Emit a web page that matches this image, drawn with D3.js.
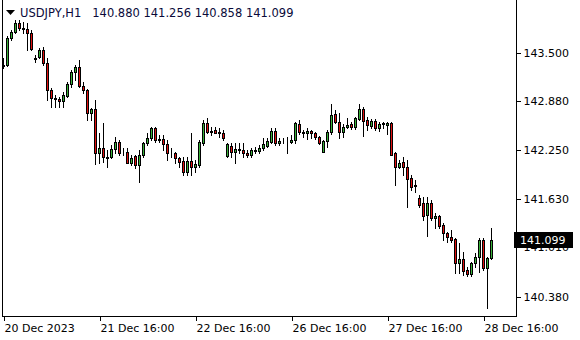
<!DOCTYPE html>
<html>
<head>
<meta charset="utf-8">
<script src="https://cdn.jsdelivr.net/npm/d3@7"></script>
<style>
  body { margin: 0; background: #fff; }
  svg { display: block; font-family: "DejaVu Sans", sans-serif; }
</style>
</head>
<body>
<script>
// Width and height
var w = 580;
var h = 340;
var plotRight = 516;
var plotBottom = 316;

// USDJPY H1 bars (open, high, low, close)
var opens = [143.330,143.343,143.688,143.765,143.880,143.816,143.803,143.752,143.432,143.445,
  143.535,143.368,143.023,142.921,142.908,142.882,142.946,143.100,143.253,143.317,
  143.074,143.023,142.729,142.780,142.217,142.281,142.166,142.166,142.269,142.358,
  142.230,142.230,142.090,142.179,142.064,142.192,142.345,142.409,142.537,142.396,
  142.396,142.333,142.230,142.217,142.153,142.115,141.974,142.115,142.038,142.064,
  142.345,142.601,142.499,142.512,142.473,142.473,142.179,142.307,142.230,142.269,
  142.256,142.217,142.192,142.256,142.243,142.281,142.307,142.358,142.499,142.345,
  142.371,142.371,142.358,142.384,142.588,142.486,142.473,142.499,142.473,142.422,
  142.230,142.371,142.486,142.716,142.614,142.486,142.550,142.588,142.550,142.652,
  142.780,142.639,142.563,142.627,142.537,142.588,142.575,142.601,142.217,142.038,
  142.102,142.038,141.898,141.808,141.642,141.578,141.425,141.578,141.386,141.412,
  141.297,141.194,141.143,141.118,140.811,140.862,140.721,140.670,140.811,140.887,
  141.105,140.747,140.880];
var highs = [143.432,143.714,143.790,143.918,143.918,143.893,143.880,143.790,143.471,143.560,
  143.573,143.432,143.049,142.959,142.934,142.997,143.125,143.279,143.343,143.407,
  143.125,143.030,142.793,142.895,142.473,142.601,142.256,142.320,142.422,142.384,
  142.281,142.281,142.192,142.192,142.256,142.358,142.473,142.550,142.550,142.448,
  142.448,142.384,142.281,142.230,142.166,142.166,142.166,142.473,142.128,142.384,
  142.639,142.665,142.550,142.550,142.537,142.512,142.345,142.345,142.345,142.345,
  142.345,142.256,142.281,142.294,142.320,142.409,142.409,142.537,142.537,142.409,
  142.409,142.422,142.448,142.614,142.639,142.512,142.537,142.512,142.486,142.435,
  142.384,142.512,142.844,142.767,142.729,142.588,142.665,142.614,142.678,142.844,
  142.806,142.678,142.652,142.652,142.614,142.614,142.614,142.614,142.230,142.128,
  142.166,142.128,141.936,141.872,141.680,141.655,141.655,141.617,141.450,141.425,
  141.322,141.207,141.233,141.130,141.067,140.952,140.760,140.824,140.939,141.130,
  141.130,140.887,141.256];
var lows = [143.304,143.330,143.662,143.752,143.790,143.752,143.535,143.535,143.381,143.432,
  143.343,142.895,142.806,142.806,142.806,142.806,142.934,143.061,143.151,143.061,
  142.985,142.639,142.639,142.077,142.090,142.102,142.038,142.153,142.217,142.192,
  142.192,142.090,142.064,142.026,141.847,142.166,142.320,142.384,142.358,142.358,
  142.256,142.128,142.166,142.090,142.038,141.936,141.936,141.936,141.974,142.038,
  142.320,142.473,142.448,142.473,142.422,142.384,142.166,142.166,142.090,142.217,
  142.166,142.166,142.166,142.217,142.217,142.256,142.294,142.345,142.320,142.320,
  142.345,142.217,142.345,142.345,142.460,142.422,142.396,142.409,142.396,142.333,
  142.230,142.294,142.460,142.601,142.409,142.422,142.537,142.524,142.524,142.639,
  142.435,142.512,142.537,142.512,142.499,142.537,142.460,142.192,141.808,142.026,
  141.936,141.527,141.744,141.719,141.527,141.361,141.156,141.361,141.258,141.258,
  141.105,141.079,141.079,140.683,140.683,140.657,140.645,140.645,140.760,140.696,
  140.721,140.235,140.858];
var closes = [143.343,143.688,143.765,143.880,143.816,143.803,143.752,143.547,143.425,143.535,
  143.368,143.023,142.921,142.908,142.882,142.959,143.100,143.253,143.317,143.074,
  143.023,142.729,142.780,142.217,142.281,142.166,142.153,142.269,142.358,142.217,
  142.224,142.090,142.153,142.064,142.192,142.345,142.409,142.537,142.384,142.390,
  142.333,142.217,142.224,142.153,142.102,141.974,142.115,142.038,142.077,142.358,
  142.601,142.486,142.486,142.473,142.486,142.409,142.333,142.230,142.269,142.256,
  142.217,142.192,142.256,142.243,142.281,142.333,142.371,142.499,142.345,142.371,
  142.365,142.377,142.384,142.601,142.486,142.473,142.499,142.473,142.422,142.345,
  142.371,142.486,142.703,142.614,142.486,142.550,142.575,142.550,142.665,142.780,
  142.627,142.575,142.627,142.537,142.588,142.601,142.601,142.192,142.038,142.090,
  142.038,141.885,141.783,141.795,141.552,141.412,141.578,141.386,141.412,141.284,
  141.194,141.143,141.105,140.811,140.862,140.708,140.670,140.811,140.887,141.105,
  140.747,140.878,141.099];

// Axis ticks
var priceTicks = [143.500, 142.880, 142.250, 141.630, 141.010, 140.380];
var timeTickBars = [0, 24, 48, 72, 96, 120];
var timeTickLabels = ["20 Dec 2023", "21 Dec 16:00", "22 Dec 16:00", "26 Dec 16:00", "27 Dec 16:00", "28 Dec 16:00"];
var symbol = "USDJPY,H1";

var bars = opens.map(function(o, i) {
  return { i: i, o: o, h: highs[i], l: lows[i], c: closes[i] };
});
var last = bars[bars.length - 1];

// Scales
var xScale = d3.scaleLinear()
  .domain([0, bars.length - 1])
  .range([3, 3 + 4 * (bars.length - 1)]);

var yScale = d3.scaleLinear()
  .domain([140.133, 144.174])
  .range([plotBottom, 0]);

var fmt = d3.format(".3f");

// SVG
var svg = d3.select("body")
  .append("svg")
  .attr("width", w)
  .attr("height", h);

// Frame lines
svg.append("line")
  .attr("x1", 2.5).attr("x2", 2.5)
  .attr("y1", 0).attr("y2", plotBottom + 1)
  .attr("stroke", "#000");
svg.append("line")
  .attr("x1", 2).attr("x2", plotRight + 1)
  .attr("y1", plotBottom + 0.5).attr("y2", plotBottom + 0.5)
  .attr("stroke", "#000");

// Candles
var candle = svg.append("g")
  .attr("shape-rendering", "crispEdges")
  .selectAll("g")
  .data(bars)
  .enter()
  .append("g");

candle.append("line")
  .attr("x1", function(d) { return Math.round(xScale(d.i)) + 0.5; })
  .attr("x2", function(d) { return Math.round(xScale(d.i)) + 0.5; })
  .attr("y1", function(d) { return Math.round(yScale(d.h)); })
  .attr("y2", function(d) { return Math.round(yScale(d.l)) + 1; })
  .attr("stroke", "#000");

candle.append("rect")
  .attr("x", function(d) { return Math.round(xScale(d.i)) - 0.5; })
  .attr("y", function(d) { return Math.round(yScale(Math.max(d.o, d.c))) + 0.5; })
  .attr("width", 2)
  .attr("height", function(d) {
    return Math.round(yScale(Math.min(d.o, d.c))) - Math.round(yScale(Math.max(d.o, d.c)));
  })
  .attr("fill", function(d) { return d.c >= d.o ? "#38b038" : "#e01010"; })
  .attr("stroke", "#000");

// Y axis (right)
var yAxis = d3.axisRight(yScale)
  .tickValues(priceTicks)
  .tickSize(4)
  .tickSizeOuter(0)
  .tickPadding(3)
  .tickFormat(fmt);

var yg = svg.append("g")
  .attr("transform", "translate(" + (plotRight + 0.5) + ",0)")
  .call(yAxis);
yg.select(".domain").attr("stroke", "#000").attr("shape-rendering", "crispEdges")
  .attr("d", "M0,0V" + (plotBottom + 1));
yg.selectAll(".tick line").attr("stroke", "#000").attr("shape-rendering", "crispEdges");
yg.selectAll(".tick text")
  .attr("fill", "#000")
  .style("font-size", "11px")
  .style("font-family", "DejaVu Sans");

// X axis (bottom)
var xAxis = d3.axisBottom(xScale)
  .tickValues(timeTickBars)
  .tickSize(4)
  .tickSizeOuter(0)
  .tickFormat(function(d, i) { return timeTickLabels[i]; });

var xg = svg.append("g")
  .attr("transform", "translate(0," + (plotBottom + 1) + ")")
  .call(xAxis);
xg.select(".domain").remove();
xg.selectAll(".tick line").attr("stroke", "#000").attr("shape-rendering", "crispEdges")
  .attr("transform", "translate(0.5,0)");
xg.selectAll(".tick text")
  .attr("text-anchor", "start")
  .attr("x", 1)
  .attr("y", 7)
  .attr("fill", "#000")
  .style("font-size", "11px")
  .style("font-family", "DejaVu Sans");

// Current price marker (drawn over the 141.010 label, as in the terminal)
var py = yScale(last.c);
svg.append("rect")
  .attr("x", plotRight - 2)
  .attr("y", Math.round(py) - 8)
  .attr("width", 59)
  .attr("height", 16)
  .attr("fill", "#000");
svg.append("text")
  .attr("x", plotRight + 4)
  .attr("y", py)
  .attr("dy", "0.36em")
  .attr("fill", "#fff")
  .style("font-size", "11px")
  .text(fmt(last.c));

// Title
svg.append("path")
  .attr("d", "M6,10 L15,10 L10.5,15 Z")
  .attr("fill", "#000");
svg.append("text")
  .attr("x", 20)
  .attr("y", 17)
  .attr("fill", "#0a0a3a")
  .style("font-size", "11.5px")
  .style("white-space", "pre")
  .attr("xml:space", "preserve")
  .text(symbol + "   " + [last.o, last.h, last.l, last.c].map(fmt).join(" "));
</script>
</body>
</html>
